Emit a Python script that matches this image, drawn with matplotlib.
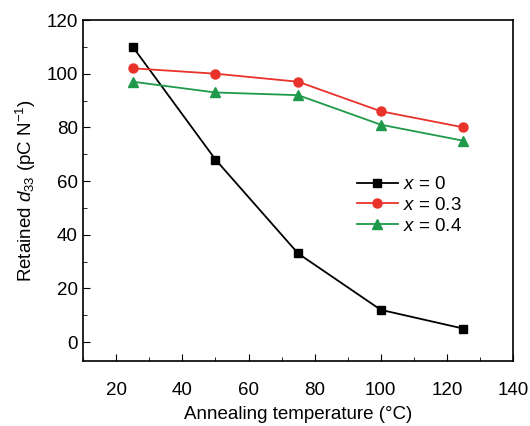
import numpy as np
import matplotlib.pyplot as plt
from matplotlib.ticker import MultipleLocator

plt.rcParams['font.family'] = ['Liberation Sans', 'DejaVu Sans']
plt.rcParams['mathtext.fontset'] = 'custom'
plt.rcParams['mathtext.rm'] = 'Liberation Sans'
plt.rcParams['mathtext.it'] = 'Liberation Sans:italic'

temps = [25, 50, 75, 100, 125]
d33_x0 = [110, 68, 33, 12, 5]
d33_x03 = [102, 100, 97, 86, 80]
d33_x04 = [97, 93, 92, 81, 75]

fig = plt.figure(figsize=(5.3, 4.26), dpi=100)
ax = fig.add_axes([0.157, 0.153, 0.811, 0.8])

ax.plot(temps, d33_x0, color='black', marker='s', ms=6, lw=1.3, label='$x$ = 0')
ax.plot(temps, d33_x03, color='#e8322b', marker='o', ms=6.5, lw=1.3, label='$x$ = 0.3')
ax.plot(temps, d33_x04, color='#1f9a4a', marker='^', ms=7, lw=1.3, label='$x$ = 0.4')

ax.set_xlim(10, 140)
ax.set_ylim(-7, 120)
ax.xaxis.set_major_locator(MultipleLocator(20))
ax.xaxis.set_minor_locator(MultipleLocator(10))
ax.yaxis.set_major_locator(MultipleLocator(20))
ax.yaxis.set_minor_locator(MultipleLocator(10))
ax.tick_params(which='both', direction='in', labelsize=13.5)
ax.tick_params(which='major', length=5)
ax.tick_params(which='minor', length=3)
ax.tick_params(axis='x', which='major', pad=15)
ax.tick_params(axis='y', which='major', pad=4)
for s in ax.spines.values():
    s.set_linewidth(1.2)

ax.set_xlabel('Annealing temperature (°C)', fontsize=13.5, labelpad=5)
ax.set_ylabel('Retained $d_{33}$ (pC N$^{-1}$)', fontsize=13.5, labelpad=6)
ax.legend(frameon=False, fontsize=13.5, loc='upper left', bbox_to_anchor=(0.614, 0.57),
          handlelength=2.2, handletextpad=0.3, labelspacing=0.2, borderpad=0)

fig.savefig('out.png', dpi=100)
